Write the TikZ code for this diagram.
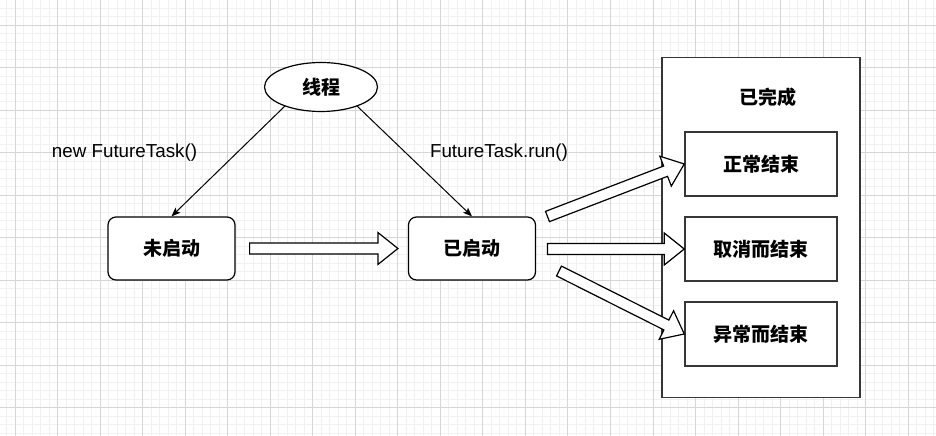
\documentclass[tikz,border=0pt]{standalone}
\usepackage{fontspec}
\setmainfont{Liberation Sans}
\newfontfamily\cjk{Noto Sans CJK SC}
\usetikzlibrary{calc,arrows.meta,shapes.geometric}
\definecolor{gridminor}{RGB}{241,241,241}
\definecolor{gridmajor}{RGB}{214,214,214}
\definecolor{boxgray}{RGB}{54,54,54}
\tikzset{
 cjkbold/.style={font=\cjk\bfseries\fontsize{19bp}{22bp}\selectfont},
 statebox/.style={draw=black, line width=1.2bp, rounded corners=8bp, fill=white, minimum width=127bp, minimum height=63bp, inner sep=0pt, cjkbold},
 endbox/.style={draw=boxgray, line width=1.5bp, fill=white, minimum width=152bp, minimum height=64bp, inner sep=0pt, cjkbold},
 thinarr/.style={line width=1bp, -{Stealth[length=9bp,width=7bp,inset=2bp]}},
 flexa/.style={draw=black, line width=1.2bp, fill=white, line join=miter},
 lbl/.style={font=\fontsize{18.8bp}{22bp}\selectfont, inner sep=0pt},
}
\newcommand\flexarr[3]{%
 \coordinate (h#3) at ($(#2)!20bp!(#1)$);
 \draw[flexa] ($(#1)!5.5bp!90:(#2)$) -- ($(h#3)!5.5bp!90:(#2)$) -- ($(h#3)!16bp!90:(#2)$) -- (#2) -- ($(h#3)!16bp!-90:(#2)$) -- ($(h#3)!5.5bp!-90:(#2)$) -- ($(#1)!5.5bp!-90:(#2)$) -- cycle;}
\begin{document}
\begin{tikzpicture}[x=1bp,y=-1bp]
\useasboundingbox (0,0) rectangle (936,436);
\fill[white] (0,0) rectangle (936,436);
% grid
\foreach \i in {0,...,109} \draw[gridminor, line width=0.8bp] ({6.494+8.506*\i},0) -- ++(0,436);
\foreach \i in {0,...,50} \draw[gridminor, line width=0.8bp] (0,{7.988+8.506*\i}) -- ++(936,0);
\foreach \i in {0,...,21} \draw[gridmajor, line width=0.9bp] ({15+42.53*\i},0) -- ++(0,436);
\foreach \i in {0,...,9} \draw[gridmajor, line width=0.9bp] (0,{25+42.53*\i}) -- ++(936,0);
% nodes
\node[draw, ellipse, fill=white, line width=1.2bp, minimum width=113bp, minimum height=49bp, inner sep=0pt, cjkbold] (th) at (321,87) {线程};
\node[statebox] (ns) at (171.5,248.5) {未启动};
\node[statebox] (st) at (472,248.5) {已启动};
\node[draw=boxgray, line width=1.5bp, fill=white, minimum width=198bp, minimum height=340bp, inner sep=0pt] (done) at (761,227.5) {};
\node[cjkbold, inner sep=0pt] (donelbl) at (768,97) {已完成};
\node[endbox] (e1) at (761,164) {正常结束};
\node[endbox] (e2) at (761,249) {取消而结束};
\node[endbox] (e3) at (761,334) {异常而结束};
\node[lbl] (l1) at (124.5,153) {new FutureTask()};
\node[lbl] (l2) at (499,153) {FutureTask.run()};
% thin arrows
\draw[thinarr] (th.208) -- (ns.north);
\draw[thinarr] (th.332) -- (st.north);
% block arrows
\coordinate (a0s) at ($(ns.east)+(14bp,0)$);
\coordinate (a0e) at ($(st.west)+(-10bp,0)$);
\coordinate (a1s) at (547.5,216.5);
\coordinate (a2s) at (547.5,249);
\coordinate (a3s) at (559,271);
\flexarr{a0s}{a0e}{A}
\flexarr{a1s}{e1.west}{B}
\flexarr{a2s}{e2.west}{C}
\flexarr{a3s}{e3.west}{D}
\end{tikzpicture}
\end{document}
